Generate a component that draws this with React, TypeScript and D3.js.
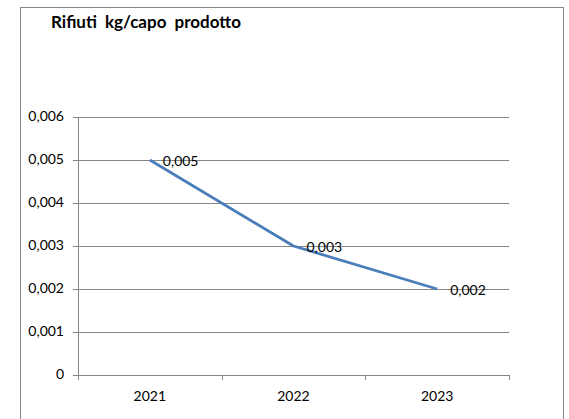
import React from 'react';
import * as d3 from 'd3';

const years = ['2021', '2022', '2023'];
const values = [0.005, 0.003, 0.002];
const yTicks = [0, 0.001, 0.002, 0.003, 0.004, 0.005, 0.006];

const WIDTH = 569;
const HEIGHT = 419;
const FONT = 'Lato, "Liberation Sans", sans-serif';
const GRID = '#868686';

const fmt = (v: number) => (v === 0 ? '0' : v.toFixed(3).replace('.', ','));

const App: React.FC = () => {
  const x = d3.scaleBand<string>().domain(years).range([78, 509]);
  const y = d3.scaleLinear().domain([0, 0.006]).range([375, 117]);

  const cx = (d: string) => (x(d) ?? 0) + x.bandwidth() / 2;

  const line = d3
    .line<number>()
    .x((_, i) => cx(years[i]))
    .y((d) => y(d));

  // tick positions on the category axis sit on band edges
  const xEdges = [...years.map((d) => x(d) ?? 0), x.range()[1]];

  return (
    <svg
      width={WIDTH}
      height={HEIGHT}
      style={{ position: 'absolute', left: 0, top: 0, background: '#fff' }}
      fontFamily={FONT}
    >
      <rect x={20.5} y={7.5} width={543} height={430} fill="#fff" stroke={GRID} />
      <text x={51} y={28} fontSize={17} fontWeight="bold" wordSpacing={4} fill="#000">
        Rifiuti kg/capo prodotto
      </text>

      {yTicks.map((t) => (
        <g key={t}>
          <line x1={73} x2={509} y1={Math.round(y(t)) + 0.5} y2={Math.round(y(t)) + 0.5} stroke={GRID} />
          <text x={64} y={y(t)} textAnchor="end" dominantBaseline="middle" fontSize={14} fill="#000">
            {fmt(t)}
          </text>
        </g>
      ))}

      <line x1={78.5} x2={78.5} y1={117} y2={375} stroke={GRID} />
      {xEdges.map((e, i) => (
        <line key={i} x1={Math.round(e) + 0.5} x2={Math.round(e) + 0.5} y1={375} y2={380} stroke={GRID} />
      ))}
      {years.map((d) => (
        <text key={d} x={cx(d)} y={397} textAnchor="middle" dominantBaseline="middle" fontSize={14} fill="#000">
          {d}
        </text>
      ))}

      <path d={line(values) ?? ''} fill="none" stroke="#4A7EBB" strokeWidth={2.75} strokeLinejoin="round" />

      {values.map((v, i) => (
        <text
          key={i}
          x={cx(years[i]) + 13}
          y={y(v) + 2}
          dominantBaseline="middle"
          fontSize={14}
          fill="#000"
        >
          {fmt(v)}
        </text>
      ))}
    </svg>
  );
};

export default App;
